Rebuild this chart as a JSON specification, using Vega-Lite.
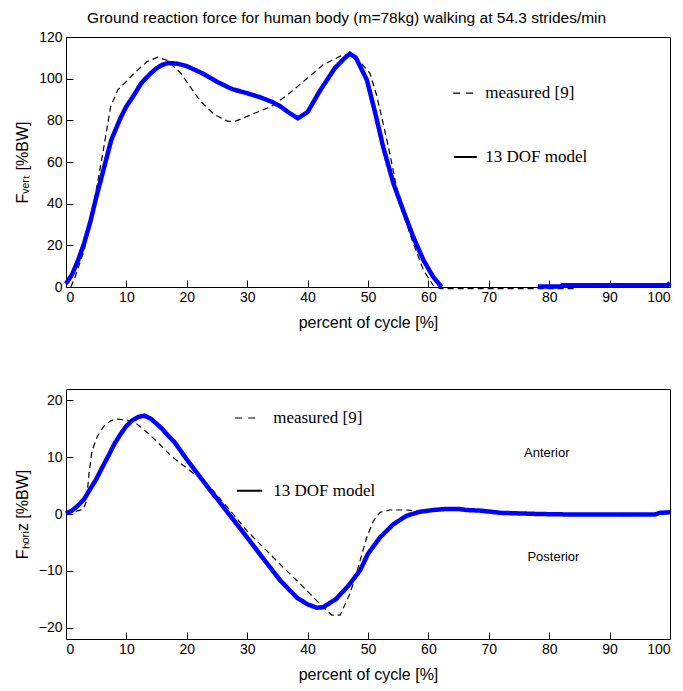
{
  "$schema": "https://vega.github.io/schema/vega-lite/v6.json",
  "padding": {"left": 13, "top": 11, "right": 10, "bottom": 5},
  "bounds": "flush",
  "spacing": 102,
  "title": {"text": "Ground reaction force for human body (m=78kg) walking at 54.3 strides/min", "anchor": "middle", "fontSize": 15.5, "fontWeight": "normal", "font": "Liberation Sans Narrow, Liberation Sans, sans-serif", "color": "#000", "offset": 3},
  "config": {
    "view": {"stroke": "#000", "strokeWidth": 1},
    "axis": {"grid": false, "domain": false, "tickColor": "#000", "tickWidth": 1, "labelFont": "Liberation Sans Narrow, Liberation Sans, sans-serif", "labelFontSize": 14, "labelColor": "#000", "titleFont": "Liberation Sans Narrow, Liberation Sans, sans-serif", "titleFontSize": 16, "titleFontWeight": "normal", "titleColor": "#000"}
  },
  "datasets": {
    "vert": [
      {"pct": 0.8, "force": 0, "series": "measured", "seg": "a"}, {"pct": 1.5, "force": 4.8, "series": "measured", "seg": "a"}, {"pct": 3, "force": 17.5, "series": "measured", "seg": "a"}, {"pct": 4.6, "force": 40, "series": "measured", "seg": "a"}, {"pct": 6, "force": 62.6, "series": "measured", "seg": "a"}, {"pct": 7.4, "force": 86.7, "series": "measured", "seg": "a"}, {"pct": 8.6, "force": 94.7, "series": "measured", "seg": "a"}, {"pct": 10, "force": 98.7, "series": "measured", "seg": "a"}, {"pct": 11.3, "force": 102.7, "series": "measured", "seg": "a"}, {"pct": 13.5, "force": 108.3, "series": "measured", "seg": "a"}, {"pct": 15.2, "force": 110.3, "series": "measured", "seg": "a"}, {"pct": 16.8, "force": 108.7, "series": "measured", "seg": "a"}, {"pct": 19, "force": 102.7, "series": "measured", "seg": "a"}, {"pct": 20.7, "force": 95.5, "series": "measured", "seg": "a"}, {"pct": 22.3, "force": 89, "series": "measured", "seg": "a"}, {"pct": 24.6, "force": 82.7, "series": "measured", "seg": "a"}, {"pct": 26.8, "force": 79.5, "series": "measured", "seg": "a"}, {"pct": 28, "force": 79.5, "series": "measured", "seg": "a"}, {"pct": 30, "force": 81.9, "series": "measured", "seg": "a"}, {"pct": 34, "force": 86.7, "series": "measured", "seg": "a"}, {"pct": 36.7, "force": 92.3, "series": "measured", "seg": "a"}, {"pct": 40, "force": 100.3, "series": "measured", "seg": "a"}, {"pct": 42.6, "force": 106.7, "series": "measured", "seg": "a"}, {"pct": 45.4, "force": 110.8, "series": "measured", "seg": "a"}, {"pct": 47, "force": 111.6, "series": "measured", "seg": "a"}, {"pct": 48.6, "force": 108.3, "series": "measured", "seg": "a"}, {"pct": 50.3, "force": 102.7, "series": "measured", "seg": "a"}, {"pct": 51.4, "force": 92.3, "series": "measured", "seg": "a"}, {"pct": 52.5, "force": 78.7, "series": "measured", "seg": "a"}, {"pct": 53.6, "force": 64.2, "series": "measured", "seg": "a"}, {"pct": 54.7, "force": 48.2, "series": "measured", "seg": "a"}, {"pct": 55.8, "force": 35.3, "series": "measured", "seg": "a"}, {"pct": 57.5, "force": 20.9, "series": "measured", "seg": "a"}, {"pct": 59.2, "force": 8, "series": "measured", "seg": "a"}, {"pct": 60.8, "force": 0.8, "series": "measured", "seg": "a"}, {"pct": 62, "force": -0.8, "series": "measured", "seg": "a"}, {"pct": 84.3, "force": -0.8, "series": "measured", "seg": "a"},
      {"pct": 0, "force": 1.6, "series": "model", "seg": "a"}, {"pct": 1, "force": 6, "series": "model", "seg": "a"}, {"pct": 2, "force": 12.8, "series": "model", "seg": "a"}, {"pct": 3, "force": 21, "series": "model", "seg": "a"}, {"pct": 4, "force": 31, "series": "model", "seg": "a"}, {"pct": 5, "force": 43, "series": "model", "seg": "a"}, {"pct": 6, "force": 54, "series": "model", "seg": "a"}, {"pct": 7.5, "force": 70.6, "series": "model", "seg": "a"}, {"pct": 9, "force": 81, "series": "model", "seg": "a"}, {"pct": 10, "force": 86.7, "series": "model", "seg": "a"}, {"pct": 11, "force": 91, "series": "model", "seg": "a"}, {"pct": 12.5, "force": 98, "series": "model", "seg": "a"}, {"pct": 14, "force": 102.5, "series": "model", "seg": "a"}, {"pct": 15, "force": 105, "series": "model", "seg": "a"}, {"pct": 16, "force": 106.7, "series": "model", "seg": "a"}, {"pct": 17, "force": 107.5, "series": "model", "seg": "a"}, {"pct": 18.5, "force": 107.2, "series": "model", "seg": "a"}, {"pct": 20, "force": 106, "series": "model", "seg": "a"}, {"pct": 22.5, "force": 102.7, "series": "model", "seg": "a"}, {"pct": 25, "force": 98.5, "series": "model", "seg": "a"}, {"pct": 27.5, "force": 95, "series": "model", "seg": "a"}, {"pct": 30, "force": 93, "series": "model", "seg": "a"}, {"pct": 32, "force": 91.2, "series": "model", "seg": "a"}, {"pct": 34, "force": 89, "series": "model", "seg": "a"}, {"pct": 35.5, "force": 86.7, "series": "model", "seg": "a"}, {"pct": 37, "force": 83.5, "series": "model", "seg": "a"}, {"pct": 38.4, "force": 81, "series": "model", "seg": "a"}, {"pct": 40, "force": 84, "series": "model", "seg": "a"}, {"pct": 42, "force": 94, "series": "model", "seg": "a"}, {"pct": 44.5, "force": 105, "series": "model", "seg": "a"}, {"pct": 46, "force": 109.5, "series": "model", "seg": "a"}, {"pct": 47, "force": 112, "series": "model", "seg": "a"}, {"pct": 48, "force": 110, "series": "model", "seg": "a"}, {"pct": 49.8, "force": 99.5, "series": "model", "seg": "a"}, {"pct": 51.2, "force": 83.5, "series": "model", "seg": "a"}, {"pct": 52.5, "force": 67.4, "series": "model", "seg": "a"}, {"pct": 54.2, "force": 49.8, "series": "model", "seg": "a"}, {"pct": 55.8, "force": 37, "series": "model", "seg": "a"}, {"pct": 57.5, "force": 24, "series": "model", "seg": "a"}, {"pct": 59.2, "force": 12.8, "series": "model", "seg": "a"}, {"pct": 60.8, "force": 4.8, "series": "model", "seg": "a"}, {"pct": 62.2, "force": 0, "series": "model", "seg": "a"},
      {"pct": 78.1, "force": 0.2, "series": "model", "seg": "b"}, {"pct": 82, "force": 0.2, "series": "model", "seg": "b"}, {"pct": 82.2, "force": 0.8, "series": "model", "seg": "b"}, {"pct": 99.6, "force": 0.8, "series": "model", "seg": "b"}, {"pct": 100, "force": 2, "series": "model", "seg": "b"}
    ],
    "horiz": [
      {"pct": 0, "force": 0, "series": "measured", "seg": "a"}, {"pct": 1, "force": 0.3, "series": "measured", "seg": "a"}, {"pct": 2.1, "force": 0.6, "series": "measured", "seg": "a"}, {"pct": 2.9, "force": 0.9, "series": "measured", "seg": "a"}, {"pct": 3.4, "force": 2.3, "series": "measured", "seg": "a"}, {"pct": 3.8, "force": 7, "series": "measured", "seg": "a"}, {"pct": 4.3, "force": 11.1, "series": "measured", "seg": "a"}, {"pct": 5.2, "force": 13.7, "series": "measured", "seg": "a"}, {"pct": 6.3, "force": 15.5, "series": "measured", "seg": "a"}, {"pct": 7.4, "force": 16.4, "series": "measured", "seg": "a"}, {"pct": 8.5, "force": 16.7, "series": "measured", "seg": "a"}, {"pct": 10.2, "force": 16.5, "series": "measured", "seg": "a"}, {"pct": 11.8, "force": 15.8, "series": "measured", "seg": "a"}, {"pct": 13.5, "force": 14.3, "series": "measured", "seg": "a"}, {"pct": 15.2, "force": 12.6, "series": "measured", "seg": "a"}, {"pct": 17.4, "force": 10.2, "series": "measured", "seg": "a"}, {"pct": 20.2, "force": 7.9, "series": "measured", "seg": "a"}, {"pct": 22.4, "force": 6.1, "series": "measured", "seg": "a"}, {"pct": 24.1, "force": 4.4, "series": "measured", "seg": "a"}, {"pct": 27.2, "force": 0.6, "series": "measured", "seg": "a"}, {"pct": 29.9, "force": -2.9, "series": "measured", "seg": "a"}, {"pct": 32.7, "force": -5.9, "series": "measured", "seg": "a"}, {"pct": 35.4, "force": -8.8, "series": "measured", "seg": "a"}, {"pct": 38.2, "force": -11.7, "series": "measured", "seg": "a"}, {"pct": 40.9, "force": -14.6, "series": "measured", "seg": "a"}, {"pct": 42.6, "force": -16.4, "series": "measured", "seg": "a"}, {"pct": 44, "force": -17.8, "series": "measured", "seg": "a"}, {"pct": 45.4, "force": -17.8, "series": "measured", "seg": "a"}, {"pct": 47, "force": -14, "series": "measured", "seg": "a"}, {"pct": 48.1, "force": -10.5, "series": "measured", "seg": "a"}, {"pct": 48.9, "force": -7.4, "series": "measured", "seg": "a"}, {"pct": 49.8, "force": -4.1, "series": "measured", "seg": "a"}, {"pct": 50.9, "force": -1.2, "series": "measured", "seg": "a"}, {"pct": 52, "force": 0.3, "series": "measured", "seg": "a"}, {"pct": 53.6, "force": 0.7, "series": "measured", "seg": "a"}, {"pct": 56.4, "force": 0.7, "series": "measured", "seg": "a"}, {"pct": 59.7, "force": 0.3, "series": "measured", "seg": "a"},
      {"pct": 0, "force": 0.1, "series": "model", "seg": "a"}, {"pct": 1, "force": 0.6, "series": "model", "seg": "a"}, {"pct": 2, "force": 1.5, "series": "model", "seg": "a"}, {"pct": 3, "force": 2.6, "series": "model", "seg": "a"}, {"pct": 4, "force": 4.4, "series": "model", "seg": "a"}, {"pct": 5, "force": 6.1, "series": "model", "seg": "a"}, {"pct": 6, "force": 8.2, "series": "model", "seg": "a"}, {"pct": 7, "force": 10.2, "series": "model", "seg": "a"}, {"pct": 8, "force": 12.3, "series": "model", "seg": "a"}, {"pct": 9, "force": 14, "series": "model", "seg": "a"}, {"pct": 10, "force": 15.5, "series": "model", "seg": "a"}, {"pct": 11, "force": 16.5, "series": "model", "seg": "a"}, {"pct": 12, "force": 17.1, "series": "model", "seg": "a"}, {"pct": 13, "force": 17.3, "series": "model", "seg": "a"}, {"pct": 14, "force": 16.8, "series": "model", "seg": "a"}, {"pct": 15, "force": 15.9, "series": "model", "seg": "a"}, {"pct": 16, "force": 14.9, "series": "model", "seg": "a"}, {"pct": 17, "force": 13.7, "series": "model", "seg": "a"}, {"pct": 18, "force": 12.6, "series": "model", "seg": "a"}, {"pct": 20, "force": 9.6, "series": "model", "seg": "a"}, {"pct": 22, "force": 6.8, "series": "model", "seg": "a"}, {"pct": 24, "force": 4.0, "series": "model", "seg": "a"}, {"pct": 25, "force": 2.7, "series": "model", "seg": "a"}, {"pct": 27.7, "force": -1.0, "series": "model", "seg": "a"}, {"pct": 29.9, "force": -4.0, "series": "model", "seg": "a"}, {"pct": 32.7, "force": -7.9, "series": "model", "seg": "a"}, {"pct": 35.4, "force": -11.6, "series": "model", "seg": "a"}, {"pct": 38.2, "force": -14.7, "series": "model", "seg": "a"}, {"pct": 40, "force": -15.9, "series": "model", "seg": "a"}, {"pct": 41.5, "force": -16.5, "series": "model", "seg": "a"}, {"pct": 42.6, "force": -16.4, "series": "model", "seg": "a"}, {"pct": 44.8, "force": -14.9, "series": "model", "seg": "a"}, {"pct": 47, "force": -12.3, "series": "model", "seg": "a"}, {"pct": 48.7, "force": -9.9, "series": "model", "seg": "a"}, {"pct": 50, "force": -7, "series": "model", "seg": "a"}, {"pct": 52, "force": -4.1, "series": "model", "seg": "a"}, {"pct": 54.2, "force": -1.8, "series": "model", "seg": "a"}, {"pct": 56.4, "force": -0.3, "series": "model", "seg": "a"}, {"pct": 58.6, "force": 0.4, "series": "model", "seg": "a"}, {"pct": 60.8, "force": 0.7, "series": "model", "seg": "a"}, {"pct": 63, "force": 0.9, "series": "model", "seg": "a"}, {"pct": 64.9, "force": 0.9, "series": "model", "seg": "a"}, {"pct": 66.3, "force": 0.7, "series": "model", "seg": "a"}, {"pct": 68.5, "force": 0.6, "series": "model", "seg": "a"}, {"pct": 72, "force": 0.2, "series": "model", "seg": "a"}, {"pct": 78.3, "force": 0, "series": "model", "seg": "a"}, {"pct": 84.3, "force": -0.1, "series": "model", "seg": "a"}, {"pct": 97.5, "force": -0.1, "series": "model", "seg": "a"}, {"pct": 98.3, "force": 0.2, "series": "model", "seg": "a"}, {"pct": 100, "force": 0.3, "series": "model", "seg": "a"}
    ],
    "vert_key_lines": [
      {"pct": 64.1, "pct_end": 67.6, "force": 93.1, "kind": "dash"},
      {"pct": 64.2, "pct_end": 68, "force": 62.4, "kind": "solid"}
    ],
    "vert_key_text": [
      {"pct": 69.4, "force": 93.1, "label": "measured [9]"},
      {"pct": 69.4, "force": 62.4, "label": "13 DOF model"}
    ],
    "horiz_key_lines": [
      {"pct": 28, "pct_end": 31.6, "force": 16.9, "kind": "dash"},
      {"pct": 28.3, "pct_end": 32.5, "force": 4.1, "kind": "solid"}
    ],
    "horiz_key_text": [
      {"pct": 34.3, "force": 16.9, "label": "measured [9]"},
      {"pct": 34.3, "force": 4.1, "label": "13 DOF model"}
    ],
    "horiz_sides": [
      {"pct": 79.6, "force": 10.8, "label": "Anterior"},
      {"pct": 80.7, "force": -7.6, "label": "Posterior"}
    ]
  },
  "vconcat": [
    {
      "width": 604,
      "height": 250,
      "encoding": {
        "x": {"field": "pct", "type": "quantitative", "scale": {"domain": [0, 100], "nice": false}, "axis": {"values": [0, 10, 20, 30, 40, 50, 60, 70, 80, 90, 100], "offset": -7, "tickSize": 7, "labelPadding": 3, "title": "percent of cycle [%]", "titlePadding": 10}},
        "y": {"field": "force", "type": "quantitative", "scale": {"domain": [0, 120], "nice": false}, "axis": {"values": [0, 20, 40, 60, 80, 100, 120], "offset": -7, "tickSize": 7, "labelPadding": 4, "title": "Fᵥₑᵣₜ [%BW]", "titlePadding": 8}}
      },
      "layer": [
        {
          "data": {"name": "vert"},
          "mark": {"type": "line"},
          "encoding": {
            "color": {"field": "series", "type": "nominal", "scale": {"domain": ["measured", "model"], "range": ["#000000", "#0000ff"]}, "legend": null},
            "strokeDash": {"field": "series", "type": "nominal", "scale": {"domain": ["measured", "model"], "range": [[6, 4], [1, 0]]}, "legend": null},
            "strokeWidth": {"field": "series", "type": "nominal", "scale": {"domain": ["measured", "model"], "range": [1.2, 4.5]}, "legend": null},
            "detail": {"field": "seg"}
          }
        },
        {
          "data": {"name": "vert_key_lines"},
          "mark": {"type": "rule", "color": "#000"},
          "encoding": {
            "x2": {"field": "pct_end"},
            "strokeDash": {"field": "kind", "type": "nominal", "scale": {"domain": ["dash", "solid"], "range": [[7, 6], [1, 0]]}, "legend": null},
            "strokeWidth": {"field": "kind", "type": "nominal", "scale": {"domain": ["dash", "solid"], "range": [1.2, 2]}, "legend": null}
          }
        },
        {
          "data": {"name": "vert_key_text"},
          "mark": {"type": "text", "align": "left", "baseline": "middle", "font": "Liberation Serif", "fontSize": 17, "color": "#000"},
          "encoding": {"text": {"field": "label"}}
        }
      ],
      "resolve": {"scale": {"strokeDash": "independent", "strokeWidth": "independent"}}
    },
    {
      "width": 604,
      "height": 250,
      "encoding": {
        "x": {"field": "pct", "type": "quantitative", "scale": {"domain": [0, 100], "nice": false}, "axis": {"values": [0, 10, 20, 30, 40, 50, 60, 70, 80, 90, 100], "offset": -7, "tickSize": 7, "labelPadding": 3, "title": "percent of cycle [%]", "titlePadding": 10}},
        "y": {"field": "force", "type": "quantitative", "scale": {"domain": [-22, 22], "nice": false}, "axis": {"values": [-20, -10, 0, 10, 20], "offset": -7, "tickSize": 7, "labelPadding": 4, "title": "Fₕₒᵣᵢz [%BW]", "titlePadding": 8}}
      },
      "layer": [
        {
          "data": {"name": "horiz"},
          "mark": {"type": "line"},
          "encoding": {
            "color": {"field": "series", "type": "nominal", "scale": {"domain": ["measured", "model"], "range": ["#000000", "#0000ff"]}, "legend": null},
            "strokeDash": {"field": "series", "type": "nominal", "scale": {"domain": ["measured", "model"], "range": [[6, 4], [1, 0]]}, "legend": null},
            "strokeWidth": {"field": "series", "type": "nominal", "scale": {"domain": ["measured", "model"], "range": [1.2, 4.5]}, "legend": null},
            "detail": {"field": "seg"}
          }
        },
        {
          "data": {"name": "horiz_key_lines"},
          "mark": {"type": "rule", "color": "#000"},
          "encoding": {
            "x2": {"field": "pct_end"},
            "strokeDash": {"field": "kind", "type": "nominal", "scale": {"domain": ["dash", "solid"], "range": [[7, 6], [1, 0]]}, "legend": null},
            "strokeWidth": {"field": "kind", "type": "nominal", "scale": {"domain": ["dash", "solid"], "range": [1.2, 2]}, "legend": null}
          }
        },
        {
          "data": {"name": "horiz_key_text"},
          "mark": {"type": "text", "align": "left", "baseline": "middle", "font": "Liberation Serif", "fontSize": 17, "color": "#000"},
          "encoding": {"text": {"field": "label"}}
        },
        {
          "data": {"name": "horiz_sides"},
          "mark": {"type": "text", "align": "center", "baseline": "middle", "font": "Liberation Sans Narrow, Liberation Sans, sans-serif", "fontSize": 13, "color": "#000"},
          "encoding": {"text": {"field": "label"}}
        }
      ],
      "resolve": {"scale": {"strokeDash": "independent", "strokeWidth": "independent"}}
    }
  ]
}
